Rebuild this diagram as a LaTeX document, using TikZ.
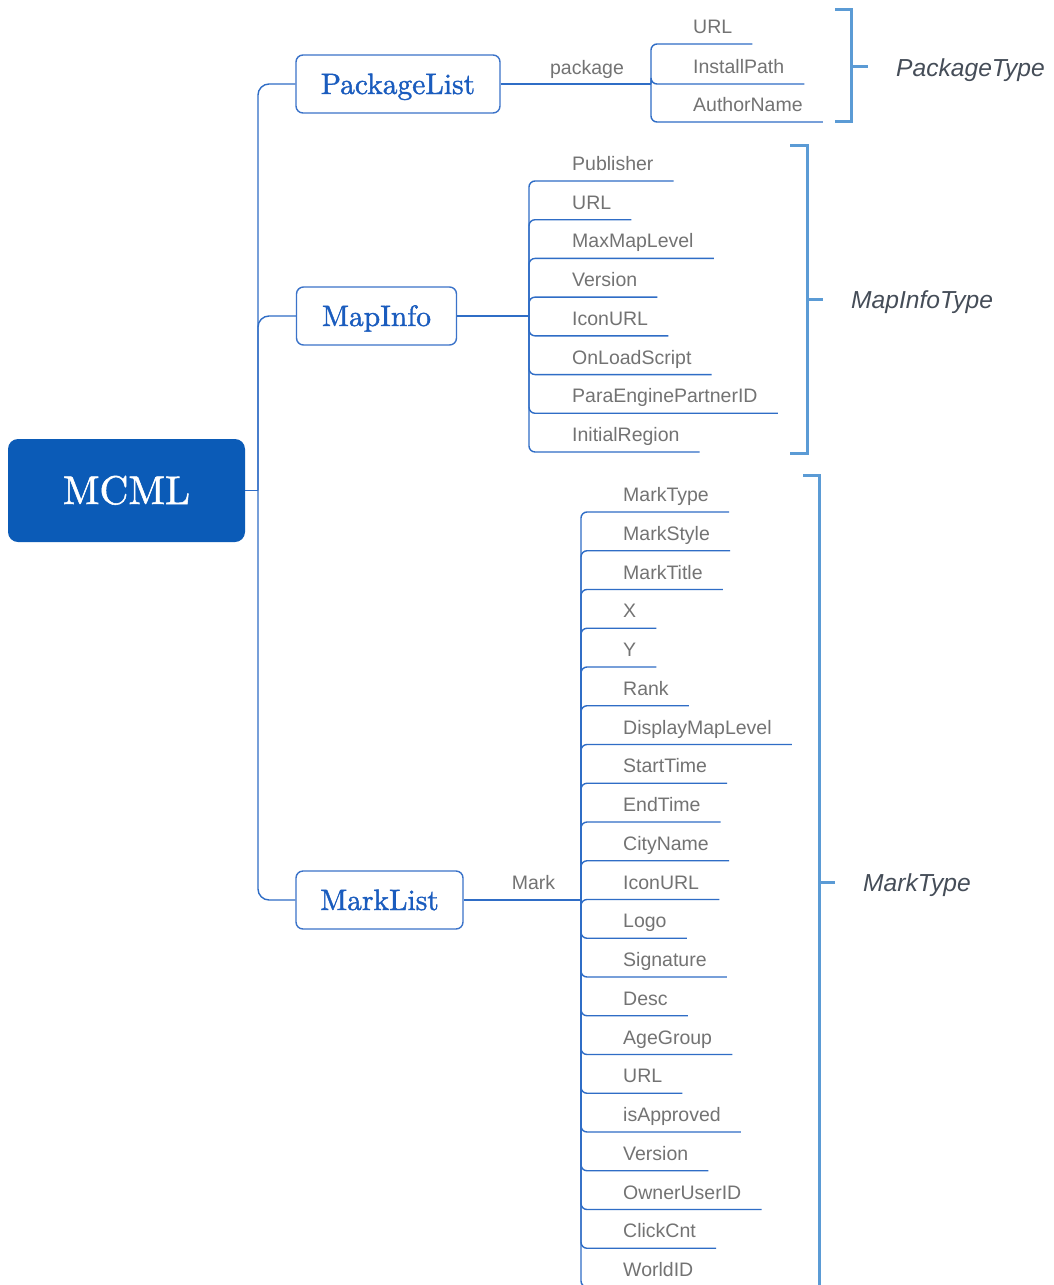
\documentclass[tikz,border=0pt]{standalone}
\usepackage{fontspec}
\newfontfamily\leaffont{Liberation Sans}
\newfontfamily\boxfont{lmroman10-regular.otf}[FakeBold=1.3]
\definecolor{linkblue}{HTML}{2F6DC6}
\definecolor{brackblue}{HTML}{5B9BD5}
\definecolor{boxblue}{HTML}{3B73C9}
\definecolor{boxtext}{HTML}{1A5CBE}
\definecolor{rootblue}{HTML}{0B5BB7}
\definecolor{leafgray}{HTML}{737373}
\definecolor{typegray}{HTML}{454D58}
\begin{document}
\begin{tikzpicture}[x=1pt,y=-1pt,
  conn/.style={draw=linkblue, line width=1.4pt, rounded corners=6pt},
  trunk/.style={draw=linkblue, line width=1.4pt, rounded corners=11pt},
  bracket/.style={draw=brackblue, line width=3pt},
  box/.style={draw=boxblue, line width=1.4pt, rounded corners=7pt, fill=white,
    text=boxtext, font=\boxfont\fontsize{29.5}{30}\selectfont, inner sep=0pt,
    text height=20pt, text depth=0pt, minimum height=58pt},
  root/.style={fill=rootblue, rounded corners=10pt, text=white,
    font=\boxfont\fontsize{40}{40}\selectfont, inner sep=0pt,
    text height=27pt, text depth=0pt, minimum width=237pt, minimum height=103pt},
  leaf/.style={text=leafgray, font=\leaffont\fontsize{19.5}{20}\selectfont,
    inner sep=0pt, anchor=base west},
  edgelbl/.style={text=leafgray, font=\leaffont\fontsize{19.5}{20}\selectfont,
    inner sep=0pt, anchor=base},
  typelbl/.style={text=typegray, font=\leaffont\itshape\fontsize{24.6}{25}\selectfont,
    inner sep=0pt, anchor=base west}]
\clip (0,0) rectangle (1053,1285);
\fill[white] (0,0) rectangle (1053,1285);

% root and first-level boxes
\node[root] (mcml) at (126.5,490.5) {MCML};
\node[box, minimum width=204pt] (pkg) at (398,84) {PackageList};
\node[box, minimum width=160pt] (map) at (376.5,316) {MapInfo};
\node[box, minimum width=167pt] (mark) at (379.5,900) {MarkList};

% trunk
\coordinate (tj) at (258,490.5);
\draw[trunk] (mcml.east) -- (tj);
\draw[trunk] (tj) |- (pkg.west);
\draw[trunk] (tj) |- (map.west);
\draw[trunk] (tj) |- (mark.west);

% PackageList children
\coordinate (pj) at (651,84);
\draw[conn] (pkg.east) -- (pj);
\node[edgelbl] (pkglbl) at (587,74) {package};
\foreach \n/\t/\y in {p1/URL/44, p2/InstallPath/84, p3/AuthorName/122}{
  \node[leaf] (\n) at (693,{\y-10.5}) {\t};
  \draw[conn] (pj) |- ([xshift=20pt,yshift=-10.5pt]\n.base east);
}

% MapInfo children
\coordinate (mj) at (529,316);
\draw[conn] (map.east) -- (mj);
\foreach \n/\t/\i in {m1/Publisher/0, m2/URL/1, m3/MaxMapLevel/2, m4/Version/3,
    m5/IconURL/4, m6/OnLoadScript/5, m7/ParaEnginePartnerID/6, m8/InitialRegion/7}{
  \node[leaf] (\n) at (572,{181+\i*38.71-10.5}) {\t};
  \draw[conn] (mj) |- ([xshift=20pt,yshift=-10.5pt]\n.base east);
}

% MarkList children
\coordinate (kj) at (581,900);
\draw[conn] (mark.east) -- (kj);
\node[edgelbl] (marklbl) at (533.5,889) {Mark};
\foreach \n/\t/\i in {k1/MarkType/0, k2/MarkStyle/1, k3/MarkTitle/2, k4/X/3, k5/Y/4,
    k6/Rank/5, k7/DisplayMapLevel/6, k8/StartTime/7, k9/EndTime/8, k10/CityName/9,
    k11/IconURL/10, k12/Logo/11, k13/Signature/12, k14/Desc/13, k15/AgeGroup/14,
    k16/URL/15, k17/isApproved/16, k18/Version/17, k19/OwnerUserID/18,
    k20/ClickCnt/19, k21/WorldID/20}{
  \node[leaf] (\n) at (623,{512+\i*38.75-10.5}) {\t};
  \draw[conn] (kj) |- ([xshift=20pt,yshift=-10.5pt]\n.base east);
}

% type brackets
\draw[bracket] (835,9) -- (851,9) -- (851,121) -- (835,121);
\draw[bracket] (851,66) -- (868,66);
\node[typelbl] (ptype) at (896,76) {PackageType};

\draw[bracket] (790,145) -- (807,145) -- (807,453) -- (790,453);
\draw[bracket] (807,299) -- (823,299);
\node[typelbl] (mtype) at (851,308.5) {MapInfoType};

\draw[bracket] (803,475) -- (819,475) -- (819,1295);
\draw[bracket] (819,882) -- (835,882);
\node[typelbl] (ktype) at (863,891.5) {MarkType};
\end{tikzpicture}
\end{document}
